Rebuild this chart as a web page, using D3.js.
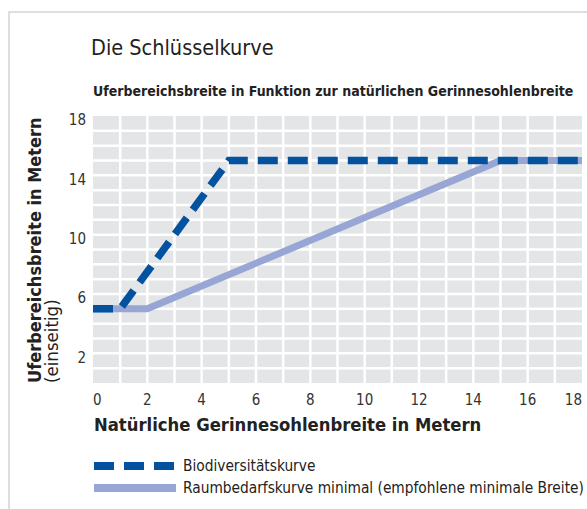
<!DOCTYPE html>
<html>
<head>
<meta charset="utf-8">
<script src="https://cdn.jsdelivr.net/npm/d3@7"></script>
<style>
  body { margin: 0; background: #fff; }
  svg { display: block; font-family: "DejaVu Sans Condensed", "DejaVu Sans", sans-serif; }
</style>
</head>
<body>
<svg width="587" height="509"></svg>
<script>
// --- data ---
const xTicks = [0, 2, 4, 6, 8, 10, 12, 14, 16, 18];
const yTicks = [2, 6, 10, 14, 18];

// Biodiversitätskurve
const bioX = [0, 1, 5, 18];
const bioY = [5, 5, 15, 15];

// Raumbedarfskurve minimal
const raumX = [0, 2, 15, 18];
const raumY = [5, 5, 15, 15];

const legendLabels = ["Biodiversitätskurve", "Raumbedarfskurve minimal (empfohlene minimale Breite)"];

const darkBlue = "#0352a0";
const lightBlue = "#97a6d4";

/* -----------------------------
   Setup
----------------------------- */

const svg = d3.select("svg");

const plot = { left: 93, right: 582, top: 116, bottom: 383 };

const x = d3.scaleLinear().domain([0, 18]).range([plot.left, plot.right]);
const y = d3.scaleLinear().domain([0, 18]).range([plot.bottom, plot.top]);

// frame
svg.append("path")
  .attr("d", "M9,509 V12 H587")
  .attr("fill", "none")
  .attr("stroke", "#d4d4d4")
  .attr("stroke-width", 1.5);

// titles
svg.append("text")
  .attr("x", 91).attr("y", 55)
  .attr("font-size", 21.5)
  .attr("fill", "#222")
  .text("Die Schlüsselkurve");

svg.append("text")
  .attr("x", 93).attr("y", 96)
  .attr("font-size", 14)
  .attr("font-weight", "bold")
  .attr("fill", "#222")
  .text("Uferbereichsbreite in Funktion zur natürlichen Gerinnesohlenbreite");

/* -----------------------------
   Grid
----------------------------- */

svg.append("rect")
  .attr("x", plot.left).attr("y", plot.top)
  .attr("width", plot.right - plot.left)
  .attr("height", plot.bottom - plot.top)
  .attr("fill", "#e4e5e7");

const grid = svg.append("g");

grid.selectAll(".vline")
  .data(d3.range(1, 18))
  .enter().append("line")
  .attr("x1", d => x(d)).attr("x2", d => x(d))
  .attr("y1", plot.top).attr("y2", plot.bottom)
  .attr("stroke", "#fff").attr("stroke-width", 2.5);

grid.selectAll(".hline")
  .data(d3.range(1, 18))
  .enter().append("line")
  .attr("y1", d => y(d)).attr("y2", d => y(d))
  .attr("x1", plot.left).attr("x2", plot.right)
  .attr("stroke", "#fff").attr("stroke-width", 2.5);

/* -----------------------------
   Axes labels
----------------------------- */

svg.append("g")
  .selectAll("text")
  .data(xTicks)
  .enter().append("text")
  .attr("x", d => x(d))
  .attr("y", 405)
  .attr("font-size", 15)
  .attr("fill", "#333")
  .attr("text-anchor", (d, i) => i === 0 ? "start" : (i === xTicks.length - 1 ? "end" : "middle"))
  .text(d => d);

svg.append("g")
  .selectAll("text")
  .data(yTicks)
  .enter().append("text")
  .attr("x", 86)
  .attr("y", d => y(d) + 4)
  .attr("dy", "0.35em")
  .attr("font-size", 15)
  .attr("fill", "#333")
  .attr("text-anchor", "end")
  .text(d => d);

svg.append("text")
  .attr("x", 94).attr("y", 431)
  .attr("font-size", 18.3)
  .attr("font-weight", "bold")
  .attr("fill", "#222")
  .text("Natürliche Gerinnesohlenbreite in Metern");

svg.append("text")
  .attr("transform", "translate(41,383) rotate(-90)")
  .attr("font-size", 18)
  .attr("font-weight", "bold")
  .attr("fill", "#222")
  .text("Uferbereichsbreite in Metern");

svg.append("text")
  .attr("transform", "translate(58,383) rotate(-90)")
  .attr("font-size", 18.5)
  .attr("fill", "#222")
  .text("(einseitig)");

/* -----------------------------
   Lines
----------------------------- */

const line = d3.line()
  .x(d => x(d[0]))
  .y(d => y(d[1]));

svg.append("path")
  .datum(d3.zip(raumX, raumY))
  .attr("fill", "none")
  .attr("stroke", lightBlue)
  .attr("stroke-width", 7)
  .attr("d", line);

svg.append("path")
  .datum(d3.zip(bioX, bioY))
  .attr("fill", "none")
  .attr("stroke", darkBlue)
  .attr("stroke-width", 7.5)
  .attr("stroke-dasharray", "20,10")
  .attr("d", line);

/* -----------------------------
   Legend
----------------------------- */

const legend = svg.append("g");

legend.append("line")
  .attr("x1", 94).attr("x2", 174)
  .attr("y1", 466).attr("y2", 466)
  .attr("stroke", darkBlue)
  .attr("stroke-width", 8)
  .attr("stroke-dasharray", "20,10");

legend.append("line")
  .attr("x1", 94).attr("x2", 176)
  .attr("y1", 488).attr("y2", 488)
  .attr("stroke", lightBlue)
  .attr("stroke-width", 8);

legend.selectAll(".lt")
  .data(legendLabels)
  .enter().append("text")
  .attr("x", 183)
  .attr("y", (d, i) => 471 + i * 22)
  .attr("font-size", 15.3)
  .attr("fill", "#222")
  .text(d => d);
</script>
</body>
</html>
